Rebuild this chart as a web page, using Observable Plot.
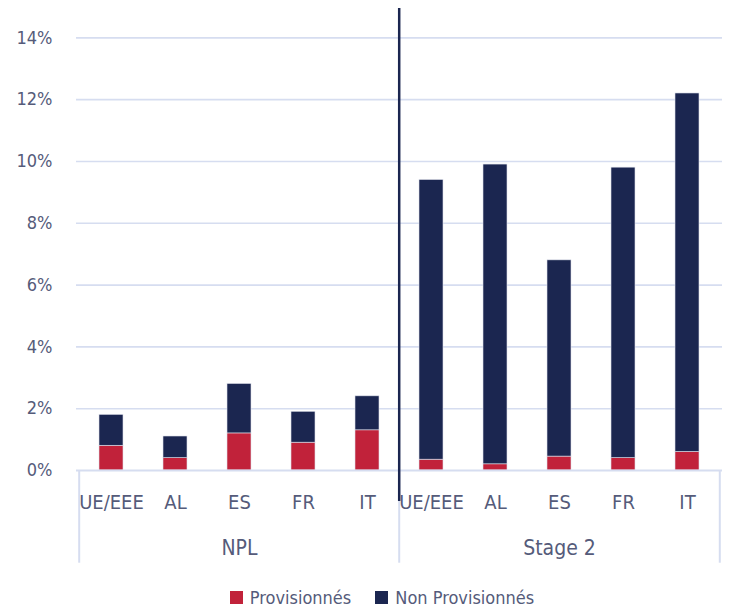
<!DOCTYPE html>
<html>
<head>
<meta charset="utf-8">
<script src="https://cdn.jsdelivr.net/npm/d3@7"></script>
<script src="https://cdn.jsdelivr.net/npm/@observablehq/plot@0.6"></script>
<style>
  html, body { margin: 0; background: #fff; overflow: hidden; font-family: "DejaVu Sans Condensed", "DejaVu Sans", sans-serif; }
  #chart svg { display: block; }
  #legend { display: flex; justify-content: center; align-items: center; padding-left: 35px; height: 22px; margin-top: 20px;
            font-size: 18px; color: #555b7a; }
  #legend .item { display: flex; align-items: center; margin: 0 12px; }
  #legend .swatch { width: 13px; height: 13px; margin-right: 7px; }
</style>
</head>
<body>
<div id="chart"></div>
<div id="legend"></div>
<script>
// Categories
const groups = ["NPL", "Stage 2"];
const countries = ["UE/EEE", "AL", "ES", "FR", "IT"];
const series = ["Provisionnés", "Non Provisionnés"];

// Shares of exposures, in %
const nplProvisionnes = [0.8, 0.4, 1.2, 0.9, 1.3];
const nplNonProvisionnes = [1.0, 0.7, 1.6, 1.0, 1.1];
const stage2Provisionnes = [0.35, 0.2, 0.45, 0.4, 0.6];
const stage2NonProvisionnes = [9.05, 9.7, 6.35, 9.4, 11.6];

// Y axis ticks
const yTicks = [0, 2, 4, 6, 8, 10, 12, 14];

const colors = ["#c1223a", "#1b2650"];
const gridColor = "#d6ddf0";
const textColor = "#555b7a";
const fontFamily = '"DejaVu Sans Condensed", "DejaVu Sans", sans-serif';

const valuesByGroup = {
  "NPL": [nplProvisionnes, nplNonProvisionnes],
  "Stage 2": [stage2Provisionnes, stage2NonProvisionnes]
};

const key = (g, c) => `${g}|${c}`;
const keys = groups.flatMap(g => countries.map(c => key(g, c)));

const rows = [];
for (const g of groups) {
  countries.forEach((c, i) => {
    series.forEach((s, j) => {
      rows.push({ key: key(g, c), group: g, country: c, series: s, value: valuesByGroup[g][j][i] });
    });
  });
}

const W = 729, H = 566, ML = 76, MR = 7, MT = 8, MB = 96;
const yTop = 14.95; // headroom above the last gridline, where the divider starts
const step = (W - ML - MR) / keys.length;

const chart = Plot.plot({
  width: W,
  height: H,
  marginLeft: ML,
  marginRight: MR,
  marginTop: MT,
  marginBottom: MB,
  style: { fontFamily, fontSize: "20px", color: textColor, background: "#fff" },
  x: { domain: keys, paddingInner: 0.63, paddingOuter: 0.315, axis: null, label: null },
  y: { domain: [0, yTop], axis: null, label: null },
  color: { domain: series, range: colors },
  marks: [
    Plot.ruleY(yTicks.slice(1), { stroke: gridColor, strokeWidth: 1.6 }),
    Plot.barY(rows, {
      x: "key", y: "value", fill: "series",
      stroke: "#dfe2ec", strokeWidth: 0.6,
      order: series
    }),
    Plot.ruleY([0], { stroke: gridColor, strokeWidth: 2 }),
    // group brackets below the axis
    Plot.ruleX([keys[0]], { dx: -step / 2, y1: 0, y2: -3, stroke: gridColor, strokeWidth: 2 }),
    Plot.ruleX([key("Stage 2", countries[0])], { dx: -step / 2, y1: 0, y2: -3, stroke: gridColor, strokeWidth: 2 }),
    Plot.ruleX([keys[keys.length - 1]], { dx: step / 2, y1: 0, y2: -3, stroke: gridColor, strokeWidth: 2 }),
    // divider between NPL and Stage 2
    Plot.ruleX([key("Stage 2", countries[0])], { dx: -step / 2, y1: -1, y2: yTop, stroke: "#1b2650", strokeWidth: 2.5 }),
    Plot.axisY(yTicks, { anchor: "left", label: null, tickSize: 0, tickPadding: 24, tickFormat: d => d + "%", fill: textColor, fontSize: 18 }),
    Plot.axisX(keys, { anchor: "bottom", label: null, tickSize: 0, tickPadding: 24, tickFormat: k => k.split("|")[1], fill: textColor, fontSize: 20 }),
    Plot.text(groups, { x: g => key(g, "ES"), y: 0, dy: 78, text: d => d, fill: textColor, fontSize: 21 })
  ]
});
document.getElementById("chart").appendChild(chart);

const legend = document.getElementById("legend");
series.forEach((s, i) => {
  const item = document.createElement("div");
  item.className = "item";
  const sw = document.createElement("span");
  sw.className = "swatch";
  sw.style.background = colors[i];
  const label = document.createElement("span");
  label.textContent = s;
  item.append(sw, label);
  legend.appendChild(item);
});
</script>
</body>
</html>
